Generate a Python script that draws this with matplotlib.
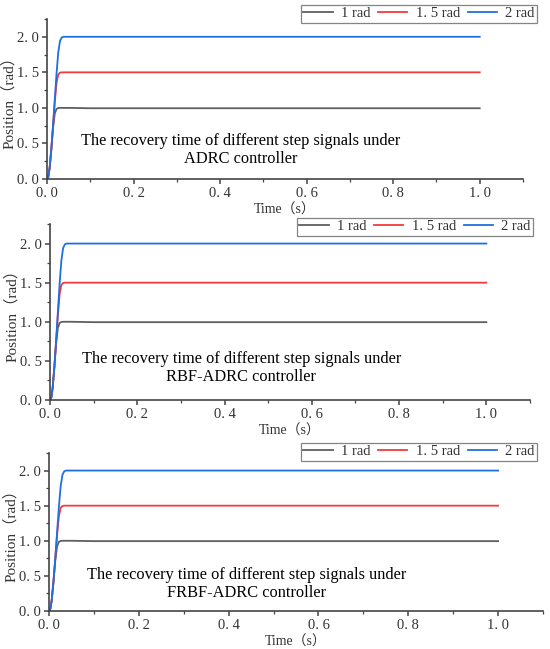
import matplotlib
matplotlib.use("Agg")
import matplotlib.pyplot as plt
from matplotlib.ticker import MultipleLocator, FuncFormatter

# step responses (same shape in all three panels)
t = [0, 0.003, 0.006, 0.01, 0.014, 0.018, 0.022, 0.026, 0.03, 0.034, 0.038, 0.042, 0.05, 0.1, 0.5, 1.0]
pos_1 = [0, 0.03, 0.15, 0.42, 0.72, 0.92, 0.985, 0.998, 1.0, 1.0, 1.0, 1.0, 1.0, 0.995, 0.995, 0.995]
pos_15 = [0, 0.03, 0.15, 0.42, 0.75, 1.08, 1.35, 1.47, 1.495, 1.5, 1.5, 1.5, 1.5, 1.5, 1.5, 1.5]
pos_2 = [0, 0.03, 0.15, 0.42, 0.76, 1.12, 1.48, 1.78, 1.94, 1.99, 2.0, 2.0, 2.0, 2.0, 2.0, 2.0]

series_labels = ["1 rad", "1. 5 rad", "2 rad"]
series_colors = ["#5f5f5f", "#f53a3a", "#1f6fe0"]
controllers = ["ADRC controller", "RBF-ADRC controller", "FRBF-ADRC controller"]

# layout of each panel in figure pixels: left, right, bottom, top
boxes = [(47, 523, 179, 19), (50, 530, 400, 224), (49, 543, 611, 453)]
legend_corner = [(537, 5), (533, 218), (537, 443)]
note_pos = [(0.448, 0.41), (0.438, 0.41), (0.44, 0.385)]

W, H = 550, 649
fig = plt.figure(figsize=(W / 100, H / 100), dpi=100)

serif = ["Liberation Serif", "Noto Sans CJK SC"]
text_col = "#333333"


def tick_fmt(v, pos):
    return ("%.1f" % v).replace(".", ". ")


for i in range(3):
    l, r, b, tp = boxes[i]
    ax = fig.add_axes([l / W, 1 - b / H, (r - l) / W, (b - tp) / H])
    for y, c, lab in zip([pos_1, pos_15, pos_2], series_colors, series_labels):
        ax.plot(t, y, color=c, lw=1.3, label=lab)
    ax.set_xlim(0, 1.1)
    ax.set_ylim(0, 2.25)
    ax.spines["top"].set_visible(False)
    ax.spines["right"].set_visible(False)
    for s in ["left", "bottom"]:
        ax.spines[s].set_color("#444444")
        ax.spines[s].set_linewidth(1.2)
    ax.xaxis.set_major_locator(MultipleLocator(0.2))
    ax.xaxis.set_minor_locator(MultipleLocator(0.1))
    ax.yaxis.set_major_locator(MultipleLocator(0.5))
    ax.yaxis.set_minor_locator(MultipleLocator(0.25))
    ax.xaxis.set_major_formatter(FuncFormatter(tick_fmt))
    ax.yaxis.set_major_formatter(FuncFormatter(tick_fmt))
    ax.tick_params(which="major", direction="out", length=3.5, width=1.1, color="#444444",
                   labelsize=10.5, labelcolor=text_col, pad=2)
    ax.tick_params(which="minor", direction="out", length=2, width=0.9, color="#444444")
    for lbl in ax.get_xticklabels() + ax.get_yticklabels():
        lbl.set_family(serif)
    ax.set_xlabel("Time（s）", fontsize=10, color=text_col, family=serif, labelpad=3)
    ax.set_ylabel("Position（rad）", fontsize=11, color=text_col, family=serif, labelpad=1)

    nx, ny = note_pos[i]
    ax.text(nx, ny, "The recovery time of different step signals under\n" + controllers[i],
            ha="center", va="center", fontsize=11.8, family="Liberation Serif",
            color="black", linespacing=1.15)

    lx, ly = legend_corner[i]
    leg = ax.legend(loc="upper right", bbox_to_anchor=(lx / W, 1 - ly / H),
                    bbox_transform=fig.transFigure, ncol=3, fancybox=False,
                    frameon=True, borderaxespad=0, handlelength=2.0, handletextpad=0.6,
                    columnspacing=0.5, borderpad=0.15, prop={"family": serif, "size": 10.5})
    leg.get_frame().set_edgecolor("#666666")
    leg.get_frame().set_linewidth(0.9)
    for txt in leg.get_texts():
        txt.set_color(text_col)

fig.savefig("out.png", dpi=100)
